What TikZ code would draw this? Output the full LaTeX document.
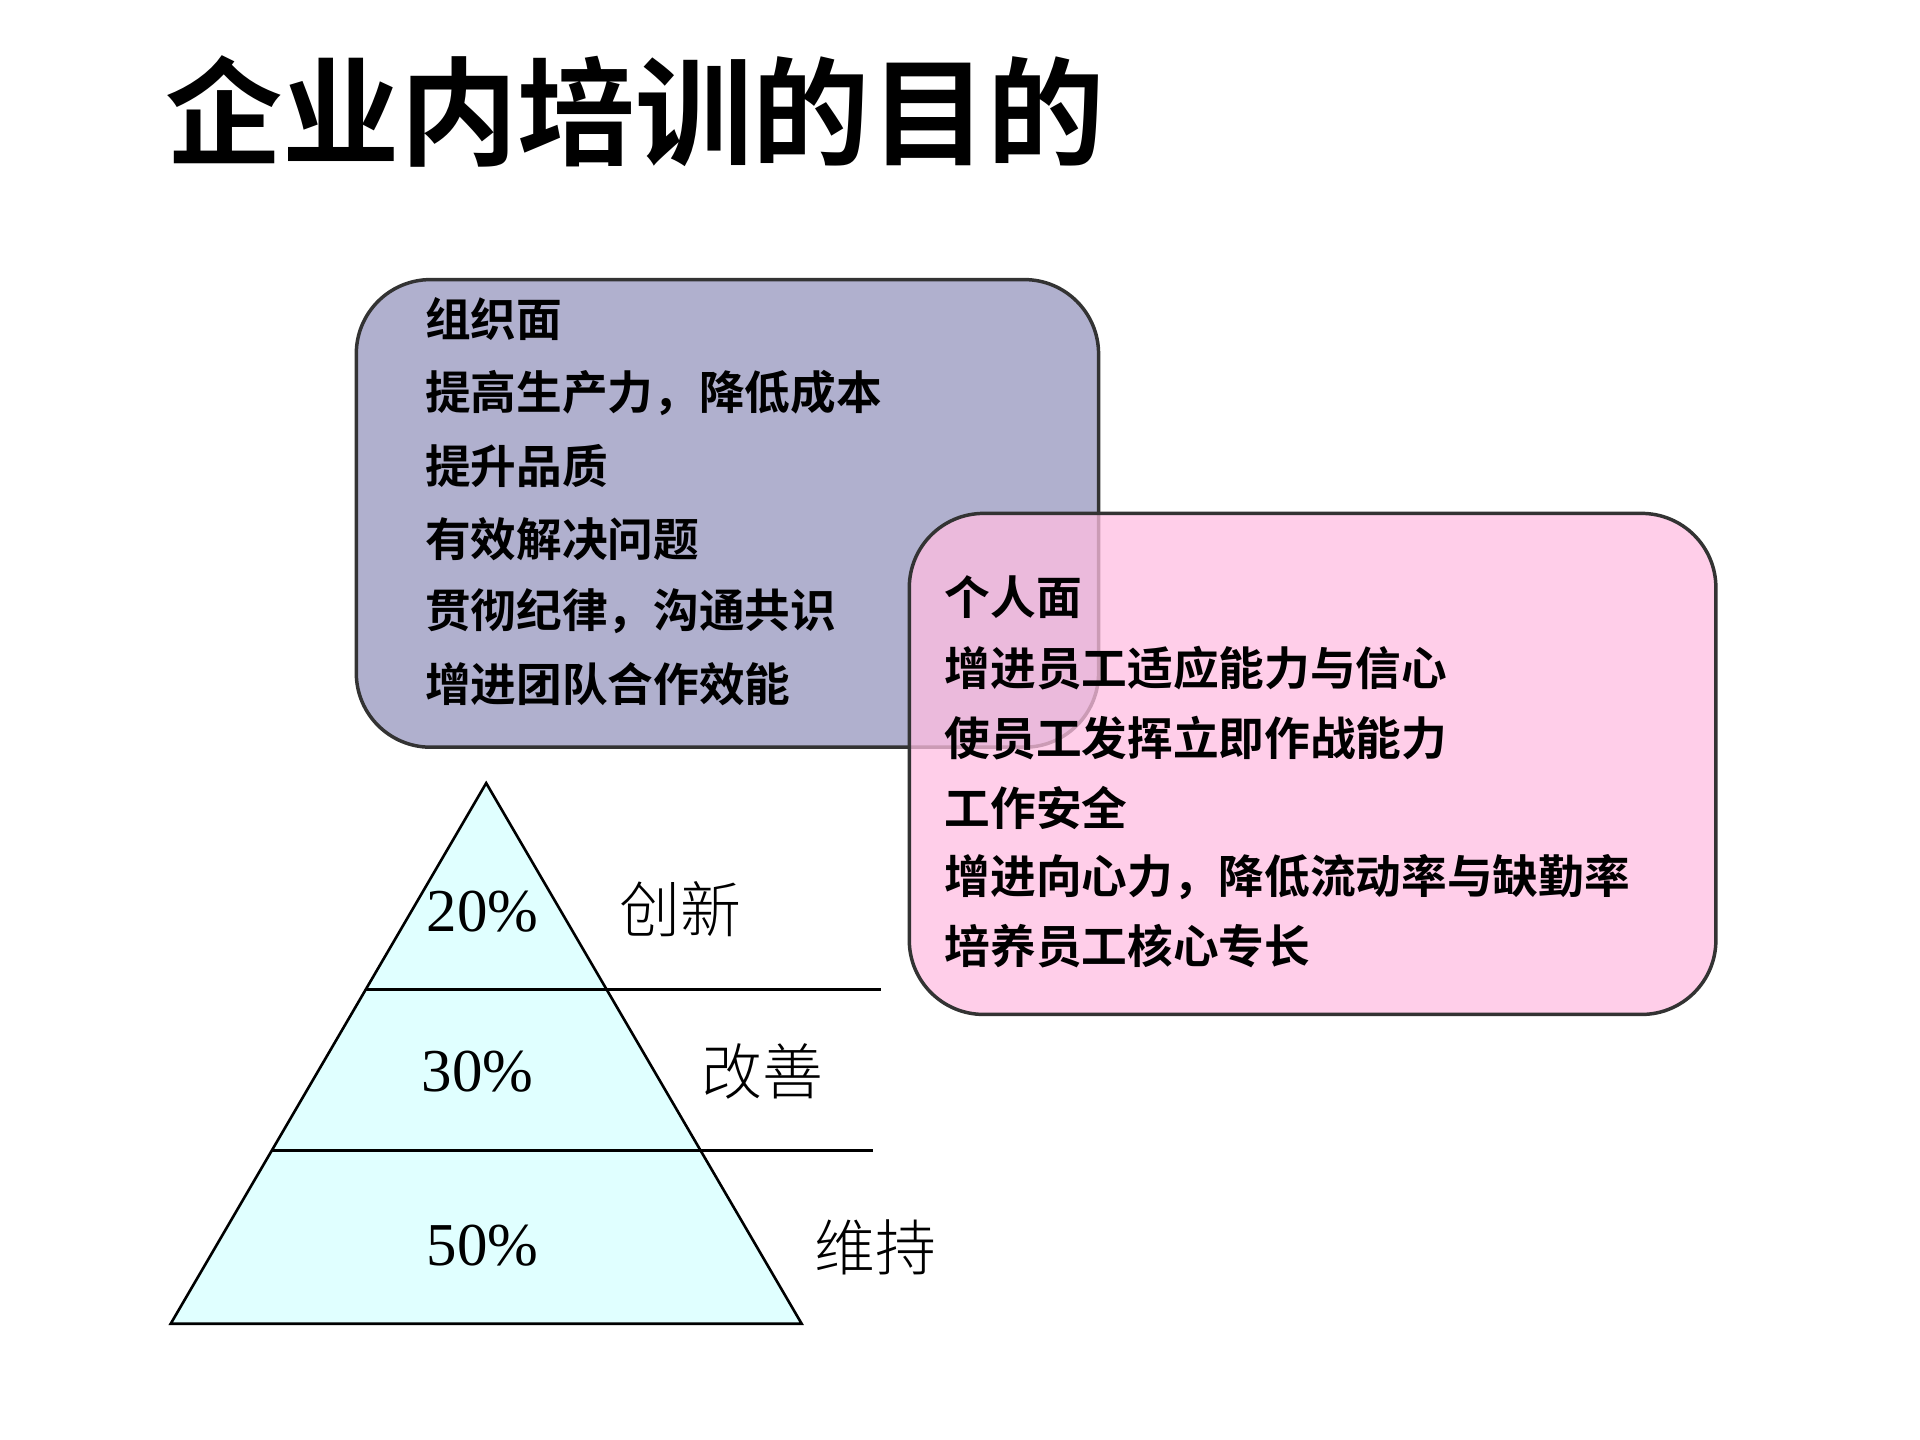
\documentclass[tikz,border=0pt]{standalone}
\usepackage{fontspec}
\setmainfont{Liberation Serif}
\newfontfamily\cjk{Noto Sans CJK SC}
\newfontfamily\cjkb{Noto Sans CJK SC Bold}
\newfontfamily\cjkl{Noto Sans CJK SC Light}
\begin{document}
\begin{tikzpicture}[x=0.01cm,y=-0.01cm,
  boxtext/.style={anchor=west,font=\cjkb\fontsize{10.5pt}{12pt}\selectfont,inner sep=0pt},
  pct/.style={font=\fontsize{14pt}{16pt}\selectfont,inner sep=0pt},
  lab/.style={font=\cjkl\fontsize{14pt}{16pt}\selectfont,inner sep=0pt}]
\useasboundingbox (0,0) rectangle (1552,1164);
\node[font=\cjkb\fontsize{27pt}{30pt}\selectfont,anchor=west,inner sep=0pt] (title) at (133,90) {企业内培训的目的};
% box 1
\draw[fill={rgb,255:red,176;green,176;blue,206},draw=black!80,line width=0.8pt,rounded corners=0.6cm] (288,226) rectangle (888,604);
\node[boxtext] (a1) at (343,258) {组织面};
\node[boxtext] (a2) at (343,318) {提高生产力，降低成本};
\node[boxtext] (a3) at (343,377) {提升品质};
\node[boxtext] (a4) at (343,436) {有效解决问题};
\node[boxtext] (a5) at (343,494) {贯彻纪律，沟通共识};
\node[boxtext] (a6) at (343,553) {增进团队合作效能};
% box 2
\draw[fill={rgb,255:red,255;green,190;blue,225},fill opacity=0.75,draw=black!80,line width=0.8pt,rounded corners=0.6cm] (735,415) rectangle (1387,820);
\node[boxtext] (b1) at (763,483) {个人面};
\node[boxtext] (b2) at (763,540) {增进员工适应能力与信心};
\node[boxtext] (b3) at (763,597) {使员工发挥立即作战能力};
\node[boxtext] (b4) at (763,653) {工作安全};
\node[boxtext] (b5) at (763,709) {增进向心力，降低流动率与缺勤率};
\node[boxtext] (b6) at (763,765) {培养员工核心专长};
% pyramid
\coordinate (apex) at (393,633);
\coordinate (bl) at (138,1070);
\coordinate (br) at (648,1070);
\draw[fill={rgb,255:red,224;green,255;blue,255},line width=0.6pt] (apex) -- (bl) -- (br) -- cycle;
\coordinate (l1) at (295.6,800); \coordinate (r1) at (712,800);
\coordinate (l2) at (220,930); \coordinate (r2) at (706,930);
\draw[line width=0.6pt] (l1) -- (r1);
\draw[line width=0.6pt] (l2) -- (r2);
\node[pct] (p1) at (390,737) {20\%};
\node[lab] (c1) at (550,735) {创新};
\node[pct] (p2) at (386,866) {30\%};
\node[lab] (c2) at (616,866) {改善};
\node[pct] (p3) at (390,1007) {50\%};
\node[lab] (c3) at (708,1008) {维持};
\end{tikzpicture}
\end{document}
